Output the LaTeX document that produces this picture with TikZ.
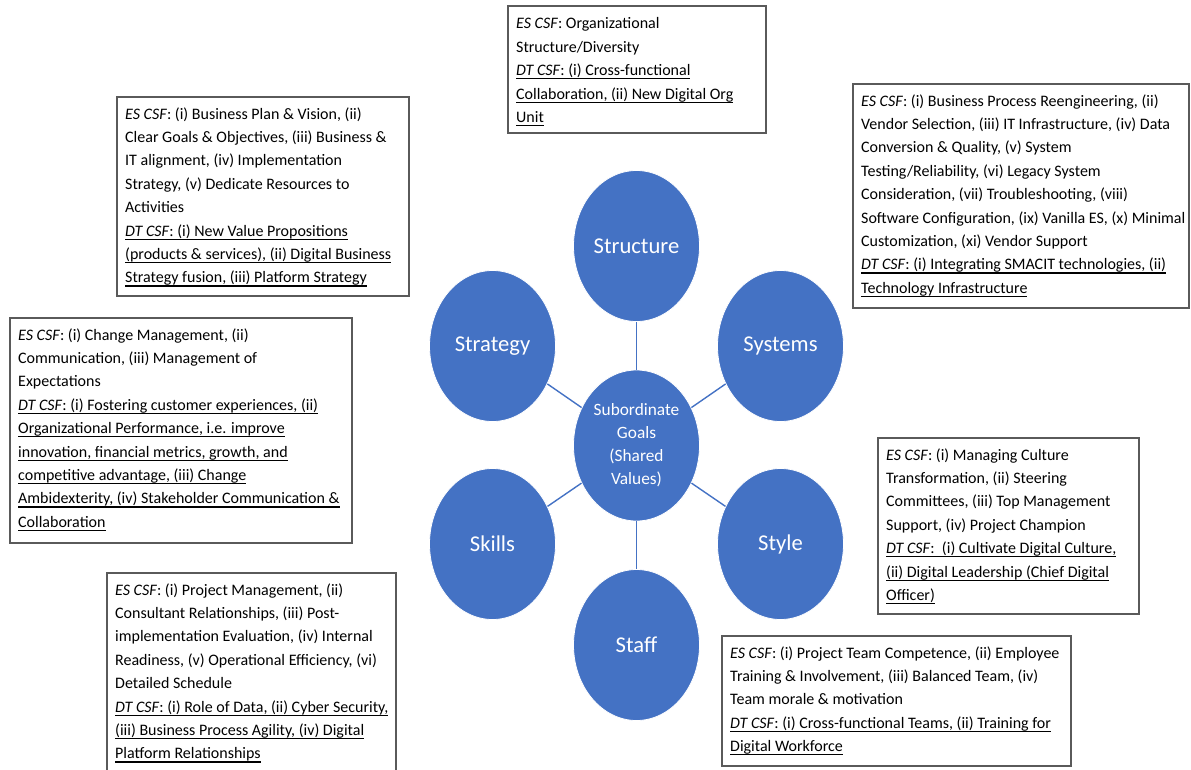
\documentclass[tikz,border=0pt]{standalone}
\usepackage{fontspec}
\setmainfont{Carlito}
\usetikzlibrary{shapes.geometric}

\definecolor{sevenblue}{HTML}{4472C4}
\definecolor{boxgray}{HTML}{5A5A5A}

% underline at a fixed depth below the baseline
\newcommand{\dtline}[1]{\sbox0{#1}\rlap{\vrule height -2.4pt depth 3.6pt width \wd0}\usebox0}
\newcommand{\es}{\textit{ES CSF}:}
\newcommand{\dt}{\textit{DT CSF}:}

\tikzset{
  sbox/.style={draw=boxgray, line width=1.1pt},
  sbtext/.style={anchor=north west, inner sep=0pt, align=left,
    font=\fontsize{16}{23.4}\selectfont},
  sball/.style={ellipse, fill=sevenblue, draw=white, line width=0.8pt,
    minimum width=126pt, minimum height=151pt, inner sep=0pt,
    text=white, font=\fontsize{22.6}{26}\selectfont},
  spoke/.style={draw=sevenblue, line width=1.4pt},
}

\begin{document}
\begin{tikzpicture}[x=1pt,y=-1pt]
\useasboundingbox (0,0) rectangle (1191,769);

% the seven S ellipses
\node[sball] (structure) at (636.5,246) {Structure};
\node[sball] (strategy)  at (492.5,346) {Strategy};
\node[sball] (systems)   at (780.5,346) {Systems};
\node[sball, font=\fontsize{17.3}{23}\selectfont, align=center] (goals) at (636.5,445.5)
  {Subordinate\\Goals\\(Shared\\Values)};
\node[sball] (skills)    at (492.5,544) {Skills};
\node[sball] (style)     at (780.5,544) {Style};
\node[sball] (staff)     at (636.5,645) {Staff};

% spokes from the centre
\foreach \n in {structure,strategy,systems,skills,style,staff}
  \draw[spoke] (goals) -- (\n);

% Structure
\draw[sbox] (508,6) rectangle (766,133);
\node[sbtext] (tstructure) at (516,12.4) {\strut\es{} Organizational\\
Structure/Diversity\\
\dtline{\dt{} (i) Cross-functional}\\
\dtline{Collaboration, (ii) New Digital Org}\\
\dtline{Unit}};

% Strategy
\draw[sbox] (117,97) rectangle (409,296);
\node[sbtext] (tstrategy) at (125,102.6) {\strut\es{} (i) Business Plan \& Vision, (ii)\\
Clear Goals \& Objectives, (iii) Business \&\\
IT alignment, (iv) Implementation\\
Strategy, (v) Dedicate Resources to\\
Activities\\
\dtline{\dt{} (i) New Value Propositions}\\
\dtline{(products \& services), (ii) Digital Business}\\
\dtline{Strategy fusion, (iii) Platform Strategy}};

% Systems
\draw[sbox] (853,84) rectangle (1189,308);
\node[sbtext] (tsystems) at (861,89.6) {\strut\es{} (i) Business Process Reengineering, (ii)\\
Vendor Selection, (iii) IT Infrastructure, (iv) Data\\
Conversion \& Quality, (v) System\\
Testing/Reliability, (vi) Legacy System\\
Consideration, (vii) Troubleshooting, (viii)\\
Software Configuration, (ix) Vanilla ES, (x) Minimal\\
Customization, (xi) Vendor Support\\
\dtline{\dt{} (i) Integrating SMACIT technologies, (ii)}\\
\dtline{Technology Infrastructure}};

% Shared values
\draw[sbox] (10,318) rectangle (352,543);
\node[sbtext] (tgoals) at (18,323.6) {\strut\es{} (i) Change Management, (ii)\\
Communication, (iii) Management of\\
Expectations\\
\dtline{\dt{} (i) Fostering customer experiences, (ii)}\\
\dtline{Organizational Performance, i.e. improve}\\
\dtline{innovation, financial metrics, growth, and}\\
\dtline{competitive advantage, (iii) Change}\\
\dtline{Ambidexterity, (iv) Stakeholder Communication \&}\\
\dtline{Collaboration}};

% Style
\draw[sbox] (878,438) rectangle (1139,614);
\node[sbtext] (tstyle) at (886,443.6) {\strut\es{} (i) Managing Culture\\
Transformation, (ii) Steering\\
Committees, (iii) Top Management\\
Support, (iv) Project Champion\\
\dtline{\dt{}\ \ (i) Cultivate Digital Culture,}\\
\dtline{(ii) Digital Leadership (Chief Digital}\\
\dtline{Officer)}};

% Skills
\draw[sbox] (107,573) rectangle (396,775);
\node[sbtext] (tskills) at (115,578.6) {\strut\es{} (i) Project Management, (ii)\\
Consultant Relationships, (iii) Post-\\
implementation Evaluation, (iv) Internal\\
Readiness, (v) Operational Efficiency, (vi)\\
Detailed Schedule\\
\dtline{\dt{} (i) Role of Data, (ii) Cyber Security,}\\
\dtline{(iii) Business Process Agility, (iv) Digital}\\
\dtline{Platform Relationships}};

% Staff
\draw[sbox] (722,636) rectangle (1071,766);
\node[sbtext] (tstaff) at (730,641.6) {\strut\es{} (i) Project Team Competence, (ii) Employee\\
Training \& Involvement, (iii) Balanced Team, (iv)\\
Team morale \& motivation\\
\dtline{\dt{} (i) Cross-functional Teams, (ii) Training for}\\
\dtline{Digital Workforce}};

\end{tikzpicture}
\end{document}
